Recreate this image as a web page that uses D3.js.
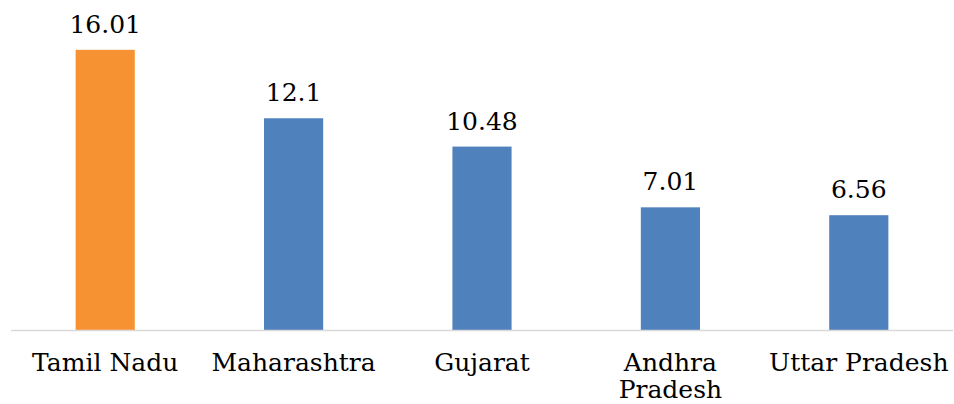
<!DOCTYPE html>
<html><head><meta charset="utf-8">
<script src="https://cdn.jsdelivr.net/npm/d3@7"></script>
<style>body{margin:0;background:#fff}svg{display:block}</style>
</head><body>
<svg id="c" width="954" height="404"></svg>
<script>
const categories = [["Tamil Nadu"], ["Maharashtra"], ["Gujarat"], ["Andhra", "Pradesh"], ["Uttar Pradesh"]];
const values = [16.01, 12.1, 10.48, 7.01, 6.56];
const valueLabels = ["16.01", "12.1", "10.48", "7.01", "6.56"];
const barColors = ["#F79232", "#4F81BD", "#4F81BD", "#4F81BD", "#4F81BD"];

const svg = d3.select("#c");
const font = "'DejaVu Serif', serif";
const x = d3.scaleBand().domain(d3.range(values.length)).range([11, 953]).paddingInner(0.686).paddingOuter(0.343);
const y = d3.scaleLinear().domain([0, 18]).range([330, 15]);

svg.append("g").selectAll("rect").data(values).join("rect")
  .attr("x", (d, i) => x(i)).attr("width", x.bandwidth())
  .attr("y", d => y(d)).attr("height", d => y(0) - y(d))
  .attr("fill", (d, i) => barColors[i]);

svg.append("line").attr("x1", 11).attr("x2", 953).attr("y1", y(0) + 0.5).attr("y2", y(0) + 0.5)
  .attr("stroke", "#d9d9d9").attr("stroke-width", 1.5);

svg.append("g").selectAll("text").data(values).join("text")
  .attr("x", (d, i) => x(i) + x.bandwidth() / 2).attr("y", d => y(d) - 17)
  .attr("text-anchor", "middle").attr("font-family", font).attr("font-size", 25).attr("fill", "#000")
  .text((d, i) => valueLabels[i]);

const cl = svg.append("g").selectAll("text").data(categories).join("text")
  .attr("text-anchor", "middle").attr("font-family", font).attr("font-size", 25).attr("fill", "#000")
  .attr("x", (d, i) => x(i) + x.bandwidth() / 2).attr("y", 371);
cl.selectAll("tspan").data((d, i) => d.map(t => ({t, i}))).join("tspan")
  .attr("x", d => x(d.i) + x.bandwidth() / 2).attr("dy", (d, j) => j === 0 ? 0 : 27).text(d => d.t);
</script>
</body></html>
